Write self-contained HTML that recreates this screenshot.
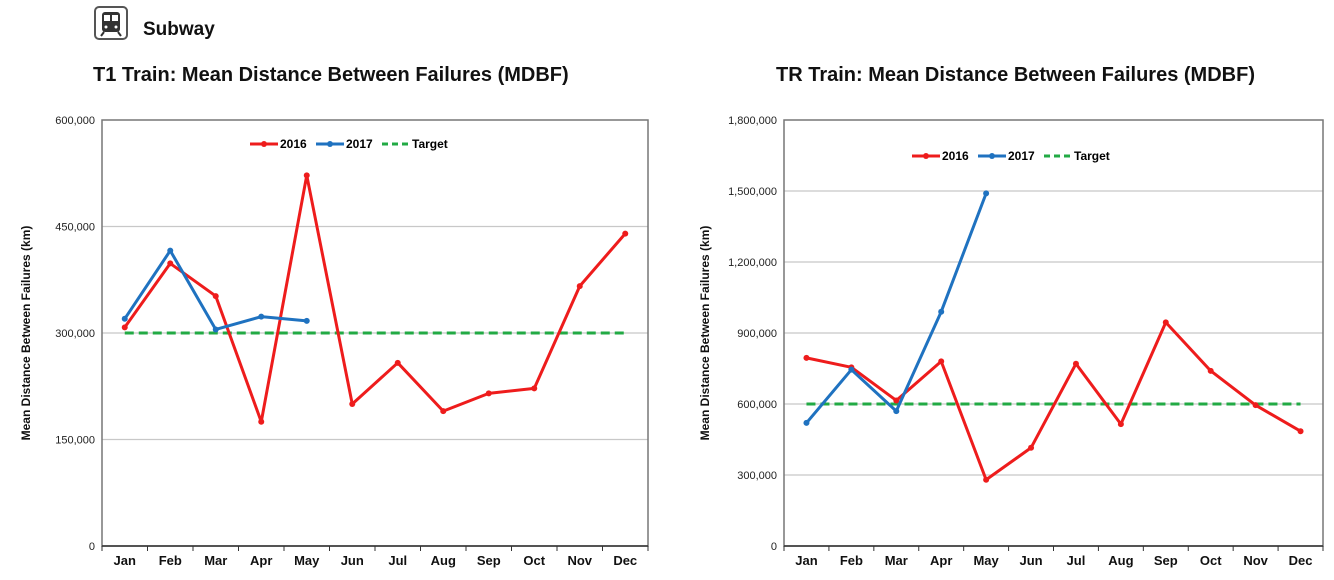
<!DOCTYPE html>
<html><head><meta charset="utf-8">
<style>
body{margin:0;width:1334px;height:580px;background:#fff;font-family:"Liberation Sans",Arial,sans-serif;overflow:hidden;position:relative}
.t{position:absolute;font-weight:bold;color:#111}
</style></head><body>
<div style="position:absolute;left:94px;top:6px;width:34px;height:34px;border:2px solid #555;border-radius:5px;box-sizing:border-box;background:#fff">
<svg width="30" height="30" viewBox="0 0 30 30"><rect x="6" y="4" width="18" height="20" rx="3" fill="#333"/><rect x="8" y="7" width="6" height="6" fill="#fff"/><rect x="16" y="7" width="6" height="6" fill="#fff"/><circle cx="10" cy="19" r="1.5" fill="#fff"/><circle cx="20" cy="19" r="1.5" fill="#fff"/><line x1="8" y1="24" x2="5" y2="28" stroke="#333" stroke-width="2"/><line x1="22" y1="24" x2="25" y2="28" stroke="#333" stroke-width="2"/></svg></div>
<div class="t" style="left:143px;top:19px;font-size:19px">Subway</div>
<div class="t" style="left:93px;top:64px;font-size:20px">T1 Train: Mean Distance Between Failures (MDBF)</div>
<div class="t" style="left:776px;top:64px;font-size:20px">TR Train: Mean Distance Between Failures (MDBF)</div>
<svg id="svg" width="1334" height="580" style="position:absolute;left:0;top:0"></svg>
<script>
const months=["Jan","Feb","Mar","Apr","May","Jun","Jul","Aug","Sep","Oct","Nov","Dec"];
const t1_2016=[308000,398000,352000,175000,522000,200000,258000,190000,215000,222000,366000,440000];
const t1_2017=[320000,416000,305000,323000,317000];
const t1_target=300000;
const t1_ticks=[0,150000,300000,450000,600000];
const tr_2016=[795000,755000,615000,780000,280000,415000,770000,515000,945000,740000,595000,485000];
const tr_2017=[520000,745000,570000,990000,1490000];
const tr_target=600000;
const tr_ticks=[0,300000,600000,900000,1200000,1500000,1800000];
const NS="http://www.w3.org/2000/svg";
const svg=document.getElementById('svg');
function mk(tag,attrs,parent){const e=document.createElementNS(NS,tag);for(const k in attrs)e.setAttribute(k,attrs[k]);(parent||svg).appendChild(e);return e;}
function fmt(v){return v.toLocaleString('en-US');}
function chart(id,L,R,T,B,ticks,s16,s17,target,legX,legY,titleX){
  const g=mk('g',{});
  
  
  const max=ticks[ticks.length-1];
  const y=v=>B-(v/max)*(B-T);
  const bw=(R-L)/12;
  const x=i=>L+bw*(i+0.5);
  ticks.forEach(t=>{
    if(t>0&&t<max){const l=mk('line',{x1:L,x2:R,y1:y(t),y2:y(t),stroke:'#c8c8c8','stroke-width':1.2},g);
    
    }
    const tx=mk('text',{x:L-7,y:y(t)+4,'text-anchor':'end','font-size':11,fill:'#222'},g);
    tx.textContent=fmt(t);
    
    
  });
  const fr=mk('rect',{x:L,y:T,width:R-L,height:B-T,fill:'none',stroke:'#777','stroke-width':1.5},g);
  
  
  const ax=mk('line',{x1:L,x2:R,y1:B,y2:B,stroke:'#333','stroke-width':1.5},g);
  
  
  for(let i=0;i<=12;i++){mk('line',{x1:L+bw*i,x2:L+bw*i,y1:B,y2:B+5,stroke:'#333'},g);}
  months.forEach((m,i)=>{const tx=mk('text',{x:x(i),y:B+19,'text-anchor':'middle','font-size':13,'font-weight':'bold',fill:'#111'},g);tx.textContent=m;
    
    });
  const yt=mk('text',{transform:`translate(${titleX},${(T+B)/2}) rotate(-90)`,'text-anchor':'middle','font-size':12,'font-weight':'bold',fill:'#111'},g);
  yt.textContent='Mean Distance Between Failures (km)';
  
  
  const tl=mk('line',{x1:x(0),x2:x(11),y1:y(target),y2:y(target),stroke:'#22aa44','stroke-width':3,'stroke-dasharray':'9,5'},g);
  
  
  function series(arr,color,name){
    const p=mk('polyline',{points:arr.map((v,i)=>x(i)+','+y(v)).join(' '),fill:'none',stroke:color,'stroke-width':3,'stroke-linejoin':'round'},g);
    
    
    arr.forEach((v,i)=>{const c=mk('circle',{cx:x(i),cy:y(v),r:3,fill:color},g);
      
      });
  }
  series(s16,'#ee1c1c','series-2016');
  series(s17,'#1f72c0','series-2017');
  const lg=mk('g',{},g);
  
  
  mk('line',{x1:legX,x2:legX+28,y1:legY,y2:legY,stroke:'#ee1c1c','stroke-width':3},lg);
  mk('circle',{cx:legX+14,cy:legY,r:3,fill:'#ee1c1c'},lg);
  let t=mk('text',{x:legX+30,y:legY+4,'font-size':12,'font-weight':'bold'},lg);t.textContent='2016';
  mk('line',{x1:legX+66,x2:legX+94,y1:legY,y2:legY,stroke:'#1f72c0','stroke-width':3},lg);
  mk('circle',{cx:legX+80,cy:legY,r:3,fill:'#1f72c0'},lg);
  t=mk('text',{x:legX+96,y:legY+4,'font-size':12,'font-weight':'bold'},lg);t.textContent='2017';
  mk('line',{x1:legX+132,x2:legX+160,y1:legY,y2:legY,stroke:'#22aa44','stroke-width':3,'stroke-dasharray':'6,4'},lg);
  t=mk('text',{x:legX+162,y:legY+4,'font-size':12,'font-weight':'bold'},lg);t.textContent='Target';
}
chart('t1',102,648,120,546,t1_ticks,t1_2016,t1_2017,t1_target,250,144,30);
chart('tr',784,1323,120,546,tr_ticks,tr_2016,tr_2017,tr_target,912,156,709);
</script>
</body></html>
